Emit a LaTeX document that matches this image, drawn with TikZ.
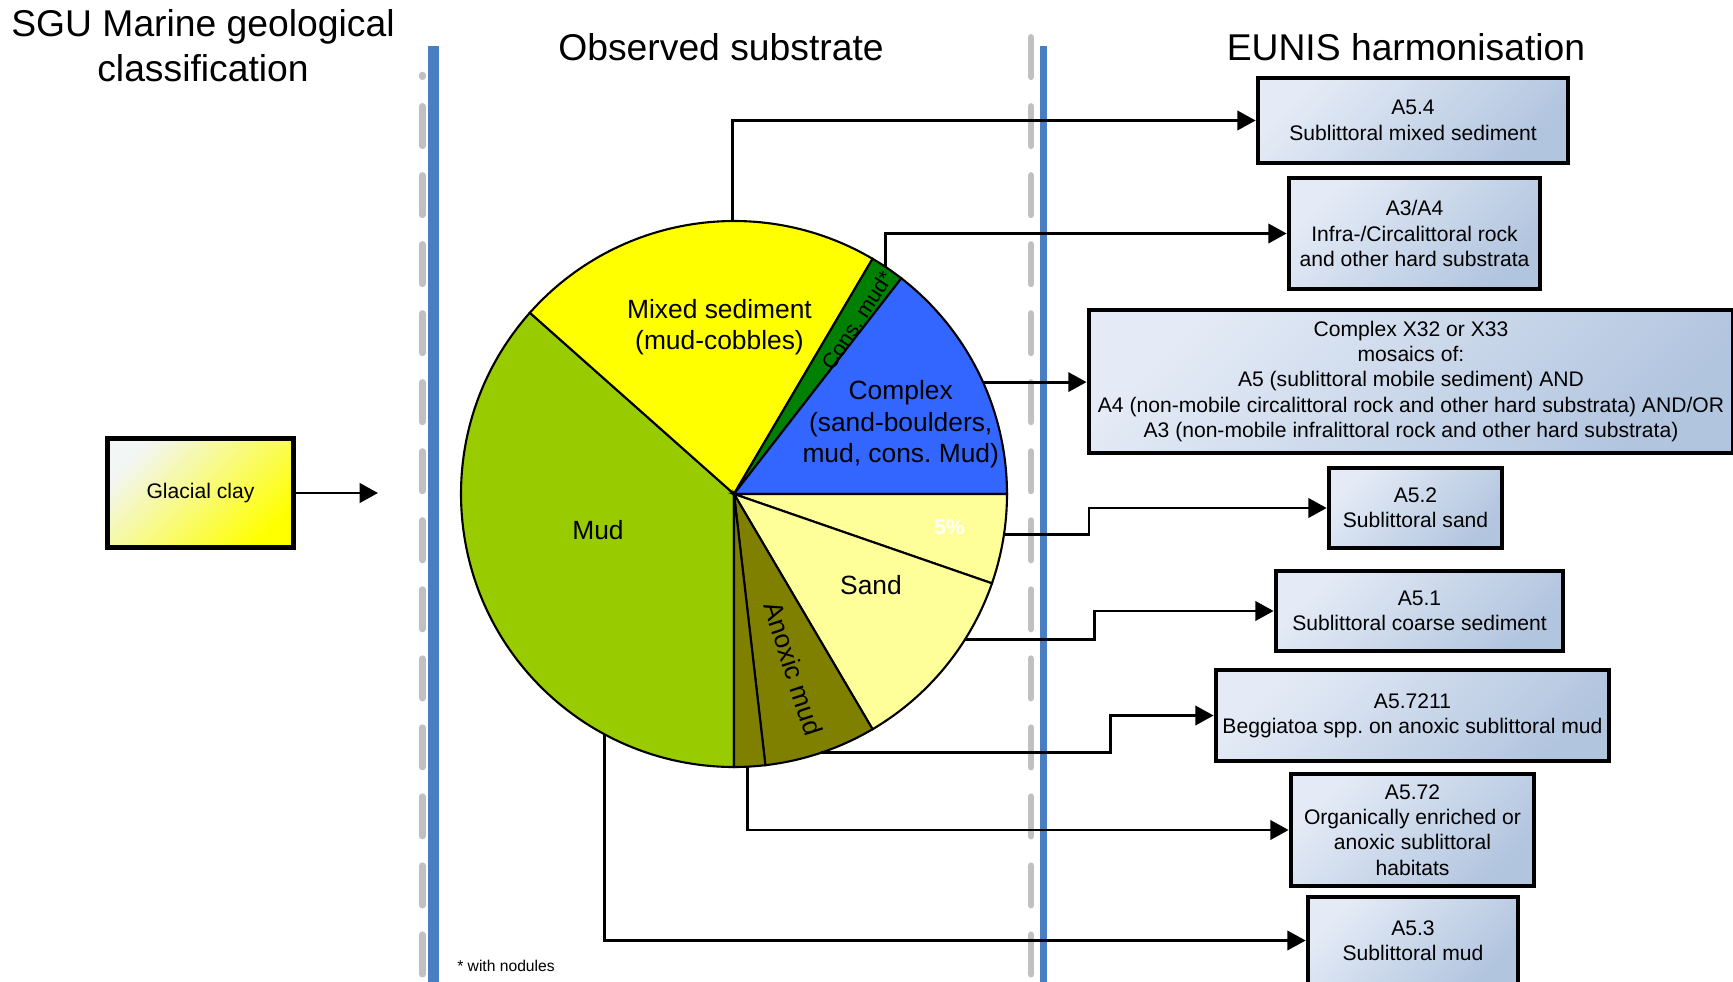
\documentclass[tikz,border=0pt]{standalone}
\usepackage{fontspec}
\setmainfont{Liberation Sans}
\usetikzlibrary{arrows.meta}
\frenchspacing

\definecolor{mudgreen}{HTML}{99CC00}
\definecolor{mixedyellow}{HTML}{FFFF00}
\definecolor{consgreen}{HTML}{008000}
\definecolor{complexblue}{HTML}{3366FF}
\definecolor{sandyellow}{HTML}{FFFF99}
\definecolor{anoxicolive}{HTML}{808000}
\definecolor{rulegray}{HTML}{C0C0C0}
\definecolor{ruleblue}{HTML}{4A7EC2}
\definecolor{boxlight}{HTML}{E4EBF6}
\definecolor{boxdark}{HTML}{B2C5DF}
\definecolor{claylight}{HTML}{F2F6F4}

% pie slice between two visual angles (degrees, counter-clockwise)
\newcommand\pieslice[3]{%
  \filldraw[fill=#3, draw=black, line width=0.6pt]
    (C) -- ++(-#1:\pieR) arc[start angle=-#1, end angle=-#2, radius=\pieR] -- cycle;}
\def\pieR{273}

\begin{document}
\begin{tikzpicture}[x=0.01cm, y=-0.01cm,
  title/.style={align=center, font=\fontsize{10.6}{12.8}\selectfont, inner sep=0pt},
  pielabel/.style={align=center, font=\fontsize{7.5}{9}\selectfont, inner sep=0pt},
  eunis/.style={draw=black, line width=1.3pt, top color=boxlight, bottom color=boxdark,
    shading angle=45, align=center, font=\fontsize{6}{7.2}\selectfont, inner sep=0pt},
  link/.style={line width=0.8pt, -{Triangle[length=5.2pt, width=5.5pt]}},
  grayrule/.style={draw=rulegray, line width=1.85pt, line cap=round,
    dash pattern=on 11.24pt off 8.39pt},
  bluerule/.style={draw=ruleblue}
]
\useasboundingbox (0,0) rectangle (1733,982);

% column titles
\node[title] (tsgu) at (203,46) {SGU Marine geological\\classification};
\node[title] (tobs) at (721,47.5) {Observed substrate};
\node[title] (teunis) at (1406,47.5) {EUNIS harmonisation};

% column separators
\coordinate (g1a) at (422.3,75);  \coordinate (g1b) at (422.3,982);
\coordinate (b1a) at (433.3,46);  \coordinate (b1b) at (433.3,982);
\coordinate (g2a) at (1031,33);   \coordinate (g2b) at (1031,982);
\coordinate (b2a) at (1043.3,46); \coordinate (b2b) at (1043.3,982);
\draw[grayrule, dash phase=10.73pt] (g1a) -- (g1b);
\draw[bluerule, line width=3.2pt] (b1a) -- (b1b);
\draw[grayrule, dash phase=18.4pt] (g2a) -- (g2b);
\draw[bluerule, line width=1.9pt] (b2a) -- (b2b);

% SGU class
\node[draw=black, line width=1.45pt, top color=claylight, middle color=yellow!55!white,
  bottom color=yellow, shading angle=45,
  minimum width=1.86cm, minimum height=1.09cm, inner sep=0pt,
  font=\fontsize{6}{7.2}\selectfont] (clay) at (200.5,493) {Glacial clay};
\coordinate (clayend) at (378,493);
\draw[link] (clay.east) -- (clayend);

% observed substrate pie
\coordinate (C) at (734,494);
\pieslice{138.4}{270}{mudgreen}
\pieslice{59.5}{138.4}{mixedyellow}
\pieslice{52.2}{59.5}{consgreen}
\pieslice{0}{52.2}{complexblue}
\pieslice{-19.1}{0}{sandyellow}
\pieslice{-59.5}{-19.1}{sandyellow}
\pieslice{-83.4}{-59.5}{anoxicolive}
\pieslice{-90}{-83.4}{anoxicolive}

\node[pielabel] (lmixed) at (719.5,327) {Mixed sediment\\(mud-cobbles)};
\node[pielabel, font=\fontsize{6.1}{7}\selectfont, rotate=57] (lcons) at (857,320) {Cons. mud*};
\node[pielabel] (lcomplex) at (900.7,424.4) {Complex\\(sand-boulders,\\mud, cons. Mud)};
\node[pielabel, font=\bfseries\fontsize{6}{7}\selectfont, text=white] (lfive) at (949.5,527) {5\%};
\node[pielabel] (lsand) at (871,584.6) {Sand};
\node[pielabel, rotate=-72] (lanoxic) at (793.5,668.6) {Anoxic mud};
\node[pielabel] (lmud) at (598,530.5) {Mud};

% connector start points on the pie rim
\path (C) ++(-90.3:\pieR) coordinate (pmixed);
\path (C) ++(-56.2:\pieR) coordinate (pcons);
\path (C) ++(-24.2:\pieR) coordinate (pcomplex);
\path (C) ++(8.6:\pieR) coordinate (pfive);
\path (C) ++(32.3:\pieR) coordinate (psand);
\path (C) ++(71.5:\pieR) coordinate (panoxic);
\path (C) ++(87.1:\pieR) coordinate (psmall);
\path (C) ++(118.3:\pieR) coordinate (pmud);

% EUNIS classes
\node[eunis, minimum width=3.10cm, minimum height=0.85cm] (a54) at (1413,120.5)
  {A5.4\\Sublittoral mixed sediment};
\node[eunis, minimum width=2.51cm, minimum height=1.11cm] (a34) at (1414.5,233.5)
  {A3/A4\\Infra-/Circalittoral rock\\and other hard substrata};
\node[eunis, minimum width=6.44cm, minimum height=1.43cm] (cx) at (1411,381.5) {};
\node[align=center, font=\fontsize{6}{7.2}\selectfont, inner sep=0pt] (cxtext) at (1411,381.5)
  {Complex X32 or X33\\mosaics of:\\A5 (sublittoral mobile sediment) AND\\
   A4 (non-mobile circalittoral rock and other hard substrata) AND/OR\\
   A3 (non-mobile infralittoral rock and other hard substrata)};
\node[eunis, minimum width=1.73cm, minimum height=0.80cm] (a52) at (1415.5,508)
  {A5.2\\Sublittoral sand};
\node[eunis, minimum width=2.87cm, minimum height=0.80cm] (a51) at (1419.5,611)
  {A5.1\\Sublittoral coarse sediment};
\node[eunis, minimum width=3.93cm, minimum height=0.91cm] (a57211) at (1412.5,715.5)
  {A5.7211\\Beggiatoa spp. on anoxic sublittoral mud};
\node[eunis, minimum width=2.43cm, minimum height=1.12cm] (a572) at (1412.5,830)
  {A5.72\\Organically enriched or\\anoxic sublittoral\\habitats};
\node[eunis, minimum width=2.10cm, minimum height=0.87cm] (a53) at (1413,940.5)
  {A5.3\\Sublittoral mud};

% links from substrate slices to EUNIS classes
\draw[link] (pmixed) |- (a54.west);
\draw[link] (pcons) |- (a34.west);
\draw[link] (pcomplex) -- (pcomplex -| cx.west);
\draw[link] (pfive) -- ++(85,0) |- (a52.west);
\draw[link] (psand) -- ++(130,0) |- (a51.west);
\draw[link] (panoxic) -- ++(290,0) |- (a57211.west);
\draw[link] (psmall) |- (a572.west);
\draw[link] (pmud) |- (a53.west);

\node[font=\fontsize{4.45}{5}\selectfont, inner sep=0pt] (note) at (506,966) {* with nodules};
\end{tikzpicture}
\end{document}
